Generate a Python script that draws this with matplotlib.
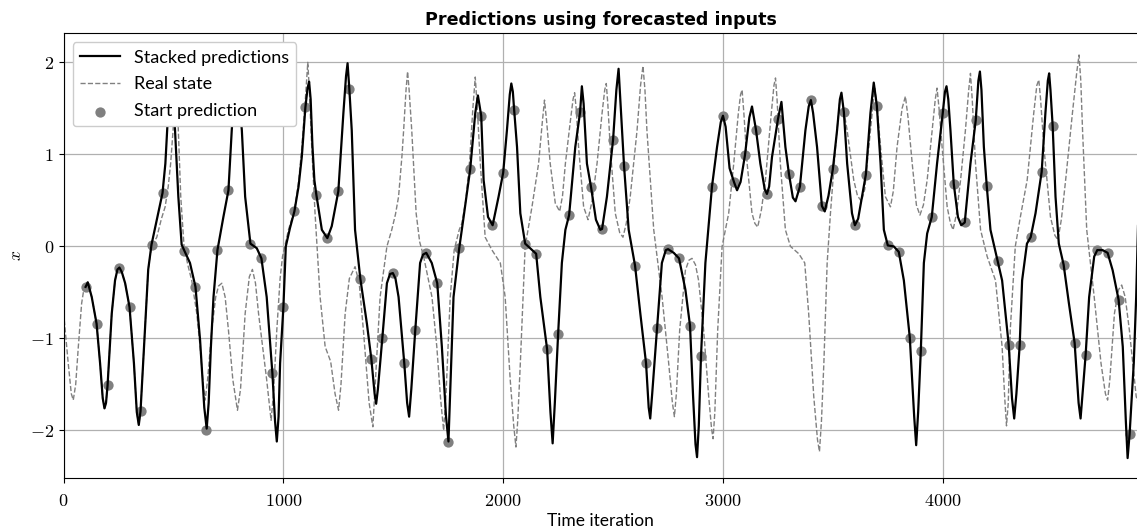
import matplotlib
matplotlib.use("Agg")
import matplotlib.pyplot as plt
from matplotlib.ticker import FuncFormatter

# ---- data ----
pred_x = [100, 110, 128, 150, 166, 178, 186, 193, 200, 219, 234, 245, 254, 265, 280, 300, 320, 333, 342, 350,
          370, 385, 400, 425, 450, 463, 472, 480, 488, 496, 500, 507, 522, 537, 550, 575, 600, 621, 640, 651,
          660, 670, 682, 700, 727, 750, 765, 775, 787, 798, 811, 826, 850, 879, 900, 924, 950, 962, 970, 978,
          985, 1000, 1011, 1030, 1050, 1069, 1084, 1100, 1110, 1117, 1124, 1132, 1141, 1150, 1175, 1200, 1220, 1250, 1273, 1285,
          1292, 1300, 1311, 1326, 1350, 1380, 1400, 1415, 1422, 1430, 1450, 1471, 1485, 1498, 1510, 1524, 1550, 1563, 1572, 1582,
          1600, 1622, 1635, 1650, 1675, 1700, 1721, 1740, 1751, 1760, 1774, 1800, 1820, 1850, 1873, 1885, 1900, 1911, 1931, 1952,
          1979, 2000, 2017, 2030, 2037, 2044, 2050, 2063, 2078, 2100, 2123, 2150, 2169, 2200, 2215, 2225, 2235, 2250, 2267, 2283,
          2300, 2328, 2350, 2358, 2366, 2381, 2400, 2422, 2442, 2450, 2472, 2500, 2515, 2525, 2535, 2550, 2571, 2600, 2624, 2650,
          2662, 2669, 2678, 2700, 2722, 2740, 2750, 2776, 2800, 2829, 2850, 2864, 2875, 2882, 2890, 2900, 2920, 2950, 2973, 2990,
          3000, 3012, 3030, 3050, 3064, 3080, 3100, 3120, 3132, 3150, 3170, 3190, 3200, 3210, 3223, 3250, 3266, 3284, 3300, 3318,
          3330, 3350, 3375, 3390, 3400, 3410, 3428, 3450, 3463, 3480, 3500, 3519, 3532, 3539, 3550, 3565, 3587, 3600, 3615, 3650,
          3671, 3686, 3700, 3717, 3732, 3750, 3777, 3800, 3823, 3850, 3870, 3879, 3888, 3900, 3914, 3929, 3950, 3974, 4000, 4010,
          4017, 4025, 4035, 4050, 4069, 4084, 4100, 4126, 4150, 4162, 4169, 4176, 4187, 4200, 4217, 4250, 4270, 4300, 4315, 4325,
          4335, 4350, 4361, 4383, 4400, 4422, 4450, 4467, 4478, 4484, 4490, 4500, 4513, 4528, 4550, 4574, 4600, 4618, 4627, 4636,
          4650, 4666, 4689, 4703, 4727, 4750, 4773, 4800, 4819, 4833, 4841, 4850, 4869, 4880, 4889]
pred_y = [-0.44, -0.39, -0.55, -0.84, -1.27, -1.65, -1.76, -1.70, -1.51, -0.73, -0.37, -0.25, -0.23, -0.28, -0.40, -0.66, -1.27, -1.80, -1.94, -1.79,
          -0.91, -0.25, 0.02, 0.30, 0.58, 0.90, 1.30, 1.70, 1.92, 1.75, 1.55, 1.26, 0.54, 0.02, -0.05, -0.18, -0.44, -1.02, -1.75, -1.98,
          -1.70, -1.10, -0.55, -0.04, 0.32, 0.61, 1.26, 1.65, 1.92, 1.65, 1.26, 0.54, 0.03, -0.02, -0.13, -0.55, -1.38, -1.90, -2.12, -1.85,
          -1.27, -0.66, 0.00, 0.20, 0.38, 0.65, 0.98, 1.51, 1.72, 1.79, 1.60, 1.10, 0.72, 0.56, 0.18, 0.09, 0.22, 0.60, 1.45, 1.85,
          1.99, 1.71, 1.26, 0.18, -0.35, -0.84, -1.22, -1.60, -1.71, -1.55, -1.00, -0.40, -0.30, -0.29, -0.35, -0.55, -1.27, -1.70, -1.85, -1.55,
          -0.91, -0.18, -0.09, -0.07, -0.18, -0.40, -1.09, -1.85, -2.12, -1.50, -0.55, -0.02, 0.32, 0.84, 1.45, 1.64, 1.42, 0.72, 0.32, 0.23,
          0.54, 0.80, 1.26, 1.65, 1.77, 1.68, 1.48, 1.08, 0.36, 0.03, -0.02, -0.08, -0.55, -1.12, -1.80, -2.14, -1.70, -0.95, -0.18, 0.18,
          0.34, 1.08, 1.46, 1.74, 1.55, 0.90, 0.64, 0.29, 0.18, 0.19, 0.54, 1.16, 1.70, 1.93, 1.50, 0.87, 0.18, -0.21, -0.73, -1.27,
          -1.75, -1.87, -1.60, -0.89, -0.18, -0.04, -0.03, -0.07, -0.13, -0.47, -0.86, -1.63, -2.15, -2.29, -1.95, -1.19, -0.18, 0.65, 1.08, 1.35,
          1.42, 1.30, 0.85, 0.70, 0.61, 0.70, 0.99, 1.40, 1.52, 1.27, 0.90, 0.62, 0.57, 0.65, 0.97, 1.38, 1.57, 1.08, 0.79, 0.53,
          0.49, 0.65, 1.26, 1.52, 1.59, 1.45, 1.08, 0.44, 0.38, 0.55, 0.84, 1.26, 1.60, 1.67, 1.46, 0.90, 0.36, 0.23, 0.30, 0.78,
          1.45, 1.78, 1.53, 0.90, 0.18, 0.01, 0.00, -0.06, -0.37, -0.99, -1.85, -2.16, -1.80, -1.14, -0.18, 0.14, 0.32, 0.90, 1.45, 1.68,
          1.74, 1.60, 1.26, 0.68, 0.32, 0.23, 0.26, 0.90, 1.37, 1.80, 1.90, 1.70, 1.08, 0.66, 0.18, -0.16, -0.37, -1.07, -1.65, -1.87,
          -1.60, -1.07, -0.37, 0.03, 0.10, 0.36, 0.81, 1.45, 1.80, 1.88, 1.70, 1.31, 0.54, 0.03, -0.20, -0.62, -1.05, -1.70, -1.87, -1.60,
          -1.18, -0.55, -0.11, -0.04, -0.04, -0.07, -0.26, -0.58, -1.09, -1.90, -2.30, -2.04, -1.27, -0.55, 0.29]

real_x = [0, 21, 35, 44, 55, 67, 82, 95, 108, 128, 150, 166, 178, 186, 193, 200, 219, 234, 245, 254,
          265, 280, 300, 320, 333, 342, 350, 370, 385, 400, 424, 445, 462, 476, 487, 498, 505, 510, 516, 522,
          533, 548, 565, 583, 606, 621, 635, 644, 655, 674, 692, 705, 720, 735, 750, 770, 791, 805, 826, 845,
          859, 873, 887, 924, 944, 955, 970, 985, 996, 1023, 1050, 1070, 1084, 1100, 1111, 1118, 1129, 1144, 1167, 1190,
          1215, 1235, 1251, 1262, 1281, 1300, 1326, 1345, 1364, 1390, 1407, 1420, 1440, 1471, 1493, 1510, 1524, 1540, 1547, 1558,
          1565, 1572, 1584, 1604, 1620, 1638, 1676, 1698, 1715, 1729, 1740, 1759, 1777, 1800, 1812, 1830, 1848, 1862, 1873, 1882,
          1896, 1918, 1949, 1987, 2009, 2032, 2048, 2058, 2066, 2078, 2100, 2131, 2161, 2178, 2188, 2198, 2214, 2237, 2257, 2270,
          2283, 2305, 2318, 2325, 2332, 2343, 2366, 2386, 2405, 2427, 2450, 2462, 2469, 2476, 2487, 2510, 2530, 2545, 2560, 2578,
          2609, 2625, 2636, 2645, 2654, 2685, 2723, 2753, 2770, 2779, 2788, 2803, 2829, 2845, 2859, 2875, 2889, 2912, 2935, 2948,
          2955, 2963, 2976, 2996, 3026, 3049, 3070, 3080, 3087, 3095, 3110, 3132, 3145, 3158, 3175, 3193, 3220, 3232, 3239, 3246,
          3261, 3284, 3307, 3345, 3372, 3390, 3413, 3430, 3439, 3448, 3459, 3474, 3489, 3512, 3530, 3539, 3548, 3565, 3595, 3612,
          3630, 3645, 3656, 3679, 3690, 3700, 3717, 3739, 3762, 3775, 3792, 3815, 3830, 3842, 3861, 3880, 3896, 3912, 3929, 3952,
          3966, 3974, 3983, 3997, 4020, 4035, 4047, 4062, 4081, 4103, 4118, 4126, 4134, 4149, 4172, 4202, 4240, 4270, 4282, 4290,
          4298, 4307, 4330, 4353, 4384, 4414, 4428, 4437, 4445, 4460, 4490, 4510, 4524, 4540, 4559, 4590, 4610, 4620, 4628, 4636,
          4655, 4689, 4720, 4740, 4750, 4760, 4781, 4800, 4814, 4830, 4849, 4880, 4889]
real_y = [-0.72, -1.27, -1.60, -1.67, -1.50, -1.09, -0.62, -0.42, -0.39, -0.55, -0.84, -1.27, -1.65, -1.76, -1.70, -1.51, -0.73, -0.37, -0.25, -0.23,
          -0.28, -0.40, -0.66, -1.27, -1.80, -1.94, -1.79, -0.91, -0.25, 0.00, 0.10, 0.30, 0.43, 0.65, 0.90, 1.26, 1.70, 1.92, 1.70, 1.26,
          0.54, 0.00, -0.20, -0.37, -0.73, -1.09, -1.50, -1.67, -1.45, -0.91, -0.55, -0.43, -0.40, -0.55, -0.91, -1.45, -1.78, -1.55, -0.73, -0.33,
          -0.25, -0.40, -0.73, -1.45, -1.89, -1.60, -0.91, -0.35, -0.11, 0.18, 0.39, 0.72, 1.08, 1.60, 2.00, 1.70, 1.08, 0.36, -0.55, -1.09,
          -1.25, -1.60, -1.78, -1.50, -0.73, -0.35, -0.22, -0.40, -0.91, -1.70, -1.96, -1.40, -0.55, 0.00, 0.18, 0.35, 0.54, 1.00, 1.26, 1.70,
          1.90, 1.70, 1.26, 0.36, 0.05, -0.11, -0.55, -1.09, -1.65, -2.00, -1.60, -0.55, -0.04, 0.18, 0.25, 0.50, 0.95, 1.50, 1.84, 1.50,
          0.90, 0.10, -0.04, -0.18, -0.55, -1.45, -1.95, -2.18, -1.90, -1.27, 0.00, 0.43, 0.90, 1.35, 1.59, 1.35, 0.90, 0.47, 0.38, 0.55,
          0.90, 1.35, 1.60, 1.67, 1.50, 1.08, 0.43, 0.29, 0.50, 0.90, 1.45, 1.70, 1.77, 1.55, 1.08, 0.36, 0.15, 0.10, 0.25, 0.54,
          1.26, 1.75, 1.96, 1.70, 1.26, 0.18, -0.55, -1.27, -1.70, -1.85, -1.60, -0.91, -0.26, -0.15, -0.13, -0.20, -0.37, -0.91, -1.63, -1.98,
          -2.09, -1.80, -0.91, 0.00, 0.36, 0.90, 1.45, 1.65, 1.70, 1.45, 0.90, 0.36, 0.25, 0.21, 0.40, 0.72, 1.45, 1.75, 1.83, 1.60,
          0.90, 0.18, 0.00, -0.08, -0.18, -0.73, -1.63, -2.10, -2.23, -1.90, -1.27, -0.18, 0.36, 1.08, 1.55, 1.66, 1.50, 1.26, 0.72, 0.55,
          0.49, 0.62, 0.90, 1.45, 1.72, 1.55, 1.08, 0.54, 0.43, 0.60, 1.08, 1.50, 1.63, 1.40, 0.90, 0.45, 0.34, 0.45, 0.72, 1.26,
          1.60, 1.72, 1.50, 1.08, 0.43, 0.25, 0.18, 0.35, 0.72, 1.26, 1.70, 1.88, 1.60, 0.90, 0.18, -0.11, -0.37, -1.09, -1.65, -1.95,
          -1.70, -0.91, 0.00, 0.32, 0.72, 1.45, 1.75, 1.81, 1.60, 1.08, 0.32, 0.12, 0.07, 0.30, 0.72, 1.45, 1.90, 2.08, 1.80, 1.26,
          0.18, -0.55, -1.27, -1.60, -1.67, -1.45, -0.73, -0.47, -0.42, -0.55, -0.91, -1.63, -1.70]

start_x = [100, 150, 200, 250, 300, 350, 400, 450, 500, 550, 600, 650, 700, 750, 800, 850, 900, 950,
           1000, 1050, 1100, 1150, 1200, 1250, 1300, 1350, 1400, 1450, 1500, 1550, 1600, 1650, 1700, 1750, 1800, 1850, 1900, 1950,
           2000, 2050, 2100, 2150, 2200, 2250, 2300, 2350, 2400, 2450, 2500, 2550, 2600, 2650, 2700, 2750, 2800, 2850, 2900, 2950,
           3000, 3050, 3100, 3150, 3200, 3250, 3300, 3350, 3400, 3450, 3500, 3550, 3600, 3650, 3700, 3750, 3800, 3850, 3900, 3950,
           4000, 4050, 4100, 4150, 4200, 4250, 4300, 4350, 4400, 4450, 4500, 4550, 4600, 4650, 4700, 4750, 4800, 4850]
start_y = [-0.44, -0.84, -1.51, -0.24, -0.66, -1.79, 0.02, 0.58, 1.55, -0.05, -0.44, -2.00, -0.04, 0.61, 1.60, 0.03, -0.13, -1.38,
           -0.66, 0.38, 1.51, 0.56, 0.09, 0.60, 1.71, -0.35, -1.22, -1.00, -0.29, -1.27, -0.91, -0.07, -0.40, -2.12, -0.02, 0.84, 1.42, 0.23,
           0.80, 1.48, 0.03, -0.08, -1.12, -0.95, 0.34, 1.46, 0.64, 0.19, 1.16, 0.87, -0.21, -1.27, -0.89, -0.03, -0.13, -0.86, -1.19, 0.65,
           1.42, 0.70, 0.99, 1.27, 0.57, 1.38, 0.79, 0.65, 1.59, 0.44, 0.84, 1.46, 0.23, 0.78, 1.53, 0.01, -0.06, -0.99, -1.14, 0.32,
           1.45, 0.68, 0.26, 1.37, 0.66, -0.16, -1.07, -1.07, 0.10, 0.81, 1.31, -0.20, -1.05, -1.18, -0.04, -0.07, -0.58, -2.04]

x_ticks = [0, 1000, 2000, 3000, 4000]
y_ticks = [-2, -1, 0, 1, 2]

# ---- figure ----
plt.rcParams['mathtext.fontset'] = 'cm'
plt.rcParams['font.family'] = ['Lato', 'DejaVu Sans']

fig = plt.figure(figsize=(11.37, 5.30), dpi=100)
ax = fig.add_axes([0.05594, 0.0975, 0.9445, 0.8396])

ax.plot(real_x, real_y, color='gray', linestyle='--', linewidth=1.0, zorder=2, label='Real state')
ax.scatter(start_x, start_y, s=55, color='gray', zorder=3, label='Start prediction', linewidths=0)
ax.plot(pred_x, pred_y, color='black', linewidth=1.6, zorder=4, label='Stacked predictions')

ax.set_xlim(0, 4886)
ax.set_ylim(-2.52, 2.315)
ax.set_xticks(x_ticks)
ax.set_yticks(y_ticks)
fmt = FuncFormatter(lambda v, p: r'$%d$' % v)
ax.xaxis.set_major_formatter(fmt)
ax.yaxis.set_major_formatter(fmt)
ax.tick_params(labelsize=13)
ax.tick_params(axis='x', pad=7)
ax.grid(True, color='#b0b0b0', linewidth=0.9)
ax.set_axisbelow(True)

ax.set_title('Predictions using forecasted inputs', fontsize=12.6, fontweight='bold',
             family=['DejaVu Sans'])
ax.set_xlabel('Time iteration', fontsize=12.5, labelpad=3)
ax.set_ylabel(r'$x$', fontsize=12.5)

h, l = ax.get_legend_handles_labels()
order = [2, 0, 1]
ax.legend([h[i] for i in order], [l[i] for i in order], loc='upper left', fontsize=13,
          framealpha=1.0, handlelength=2.2, labelspacing=0.6)

fig.savefig('out.png', dpi=100)
